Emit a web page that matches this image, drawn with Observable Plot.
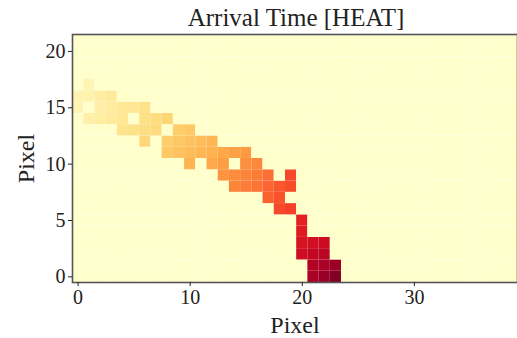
<!DOCTYPE html>
<html>
<head>
<meta charset="utf-8">
<script src="https://cdn.jsdelivr.net/npm/d3@7"></script>
<script src="https://cdn.jsdelivr.net/npm/@observablehq/plot@0.6"></script>
<style>
  html, body { margin: 0; padding: 0; background: #fff; }
  #wrap { position: relative; width: 517px; height: 338px; overflow: hidden; }
  #title { position: absolute; top: 3px; left: 296px; transform: translateX(-50%);
           font-family: "Liberation Serif", serif; font-size: 25px; line-height: 30px;
           color: #222; white-space: nowrap; }
  #chart { position: absolute; top: 0; left: 0; }
</style>
</head>
<body>
<div id="wrap">
  <div id="chart"></div>
  <div id="title">Arrival Time [HEAT]</div>
</div>
<script>
// Grid size (pixels)
const nCols = 40;
const nRows = 22;

// Burned cells: column, row, arrival time (arbitrary units, 0–100)
const cellCol = [
  1,
  0, 1, 2, 3,
  0, 2, 3, 4, 5, 6,
  1, 2, 3, 4, 6, 7, 8,
  4, 5, 6, 7, 9, 10,
  6, 8, 9, 10, 11, 12,
  8, 9, 10, 11, 12, 13, 14, 15,
  10, 12, 13, 15, 16,
  13, 14, 15, 16, 17, 19,
  14, 15, 16, 17, 18, 19,
  17, 18,
  18, 19,
  20,
  20,
  20, 21, 22,
  20, 21, 22,
  21, 22, 23,
  21, 22, 23
];
const cellRow = [
  17,
  16, 16, 16, 16,
  15, 15, 15, 15, 15, 15,
  14, 14, 14, 14, 14, 14, 14,
  13, 13, 13, 13, 13, 13,
  12, 12, 12, 12, 12, 12,
  11, 11, 11, 11, 11, 11, 11, 11,
  10, 10, 10, 10, 10,
  9, 9, 9, 9, 9, 9,
  8, 8, 8, 8, 8, 8,
  7, 7,
  6, 6,
  5,
  4,
  3, 3, 3,
  2, 2, 2,
  1, 1, 1,
  0, 0, 0
];
const cellTime = [
  7,
  8, 9, 12, 14,
  7, 11, 13, 15, 16, 19,
  10, 12, 14, 16, 20, 22, 25,
  18, 19, 21, 23, 28, 30,
  24, 28, 30, 32, 34, 36,
  30, 32, 34, 36, 38, 41, 43, 45,
  37, 41, 44, 48, 50,
  47, 49, 51, 53, 56, 64,
  51, 53, 55, 58, 61, 63,
  59, 62,
  64, 66,
  74,
  76,
  79, 81, 83,
  82, 85, 87,
  89, 91, 94,
  91, 95, 100
];
const xTicks = [0, 10, 20, 30];
const yTicks = [0, 5, 10, 15, 20];

// Full grid (unburned cells = 0)
const timeByKey = new Map(cellCol.map((c, i) => [c + "," + cellRow[i], cellTime[i]]));
const grid = [];
for (let r = 0; r < nRows; r++) {
  for (let c = 0; c < nCols; c++) {
    grid.push({c, r, t: timeByKey.get(c + "," + r) ?? 0});
  }
}

const serif = "Liberation Serif, serif";
const chart = Plot.plot({
  width: 517,
  height: 338,
  marginTop: 34,
  marginBottom: 56,
  marginLeft: 72,
  marginRight: 0,
  style: {fontFamily: serif, fontSize: "19px", color: "#222", background: "transparent"},
  x: {domain: [-0.5, 39.2]},
  y: {domain: [-0.5, nRows - 0.5]},
  color: {type: "linear", scheme: "ylorrd", domain: [0, 100]},
  marks: [
    Plot.rect(grid, {
      x1: d => d.c - 0.5, x2: d => d.c + 0.5,
      y1: d => d.r - 0.5, y2: d => d.r + 0.5,
      fill: "t", clip: true
    }),
    Plot.frame({stroke: "#555", strokeWidth: 1.6}),
    Plot.axisX({ticks: xTicks, tickSize: 4, tickPadding: 3, fontSize: 20, fontFamily: serif,
      label: "Pixel", labelAnchor: "center", labelArrow: "none", labelOffset: 50,
      stroke: "#222"}),
    Plot.axisY({ticks: yTicks, tickSize: 4, tickPadding: 3, fontSize: 20, fontFamily: serif,
      label: "Pixel", labelAnchor: "center", labelArrow: "none", labelOffset: 56,
      stroke: "#222"})
  ]
});
document.getElementById("chart").appendChild(chart);
chart.querySelectorAll("text").forEach(t => {
  t.style.fontFamily = "'Liberation Serif', serif";
  t.style.fontVariant = "normal";
});
// enlarge axis labels
chart.querySelectorAll("g[aria-label='x-axis label'] text, g[aria-label='y-axis label'] text")
  .forEach(t => t.setAttribute("font-size", "24px"));
</script>
</body>
</html>
